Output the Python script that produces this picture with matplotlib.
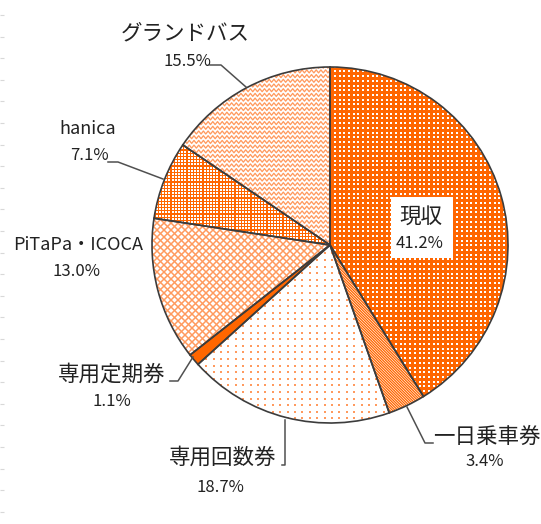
import numpy as np
import matplotlib
matplotlib.use("Agg")
import matplotlib.pyplot as plt
from matplotlib.collections import LineCollection

plt.rcParams['font.family'] = ['Noto Sans CJK JP', 'DejaVu Sans']

# data (clockwise from 12 o'clock)
labels = ['現収', '一日乗車券', '専用回数券', '専用定期券', 'PiTaPa・ICOCA', 'hanica', 'グランドバス']
shares = [41.2, 3.4, 18.7, 1.1, 13.0, 7.1, 15.5]

ORANGE = '#FF6600'
LIGHT = '#FF9A5E'
EDGE = '#3c3c3c'
W, H = 541, 524
CX, CY, R = 330, 245, 178
PX = 0.72  # points per pixel at dpi 100

fig = plt.figure(figsize=(W / 100, H / 100), dpi=100)
ax = fig.add_axes([0, 0, 1, 1])

# y axis is flipped below, so counterclock=True runs clockwise on screen
wedges, _ = ax.pie(shares, startangle=-90, counterclock=True, center=(CX, CY),
                   radius=R, wedgeprops=dict(linewidth=0))

x0, x1, y0, y1 = CX - R - 5, CX + R + 5, CY - R - 5, CY + R + 5


def dots(w, step_x, step_y, size, color, stagger=False):
    pts = []
    for j, y in enumerate(np.arange(y0, y1, step_y)):
        off = step_x / 2 if (stagger and j % 2) else 0
        for x in np.arange(x0 + off, x1, step_x):
            pts.append((x, y))
    pts = np.array(pts)
    sc = ax.scatter(pts[:, 0], pts[:, 1], s=(size * PX) ** 2, marker='s',
                    color=color, linewidths=0, zorder=3)
    sc.set_clip_path(w)


def diag(w, spacing, lw, color, slopes):
    segs = []
    span = x1 - x0 + y1 - y0
    for k in slopes:
        for c in np.arange(-span, span, spacing):
            if k > 0:
                segs.append([(x0 + c, y0), (x0 + c + span, y0 + span)])
            else:
                segs.append([(x0 + c, y0), (x0 + c - span, y0 + span)])
    lc = LineCollection(segs, colors=color, linewidths=lw * PX, zorder=3)
    ax.add_collection(lc)
    lc.set_clip_path(w)


def zigzag(w, row, period, amp, lw, color):
    xs = np.arange(x0, x1 + period, period / 2)
    segs = []
    for y in np.arange(y0, y1, row):
        ys = y + np.where(np.arange(len(xs)) % 2 == 0, -amp, amp)
        segs.append(np.column_stack([xs, ys]))
    lc = LineCollection(segs, colors=color, linewidths=lw * PX, zorder=3)
    ax.add_collection(lc)
    lc.set_clip_path(w)


# fills and patterns
wedges[0].set_facecolor(ORANGE)
dots(wedges[0], 4.7, 4.7, 1.6, 'white')

wedges[1].set_facecolor('white')
diag(wedges[1], 2.7, 1.3, ORANGE, [1])

wedges[2].set_facecolor('white')
dots(wedges[2], 7.4, 6.6, 2.0, LIGHT)

wedges[3].set_facecolor(ORANGE)

wedges[4].set_facecolor('white')
diag(wedges[4], 7.0, 1.5, LIGHT, [1, -1])

wedges[5].set_facecolor(ORANGE)
dots(wedges[5], 3.2, 3.2, 1.4, 'white')

wedges[6].set_facecolor('white')
zigzag(wedges[6], 4.7, 4.7, 1.5, 1.3, LIGHT)

# outlines on top
ax.pie(shares, startangle=-90, counterclock=True, center=(CX, CY), radius=R,
       wedgeprops=dict(fill=False, edgecolor=EDGE, linewidth=1.2, zorder=5))

ax.set_xlim(0, W)
ax.set_ylim(H, 0)

# labels
jp = 15.5
num = 12
lab_pos = {
    'グランドバス': ((185, 33), (187, 61)),
    'hanica': ((88, 129), (89, 155)),
    'PiTaPa・ICOCA': ((78, 245), (77, 272)),
    '専用定期券': ((112, 375), (112, 402)),
    '専用回数券': ((223, 458), (220, 487)),
    '一日乗車券': ((487, 437), (485, 462)),
    '現収': ((421, 217), (420, 243)),
}
for name, val in zip(labels, shares):
    (tx, ty), (vx, vy) = lab_pos[name]
    size = 13 if name in ('hanica', 'PiTaPa・ICOCA') else jp
    ax.text(tx, ty, name, fontsize=size, ha='center', va='center', color='#222222', zorder=7)
    ax.text(vx, vy, f'{val:.1f}%', fontsize=num, ha='center', va='center', color='#222222', zorder=7)

# white box behind 現収
ax.add_patch(plt.Rectangle((391, 197), 62, 61, facecolor='white', edgecolor='none', zorder=6))

# leader lines
leaders = [
    [(210, 65), (221, 65), (246, 87)],
    [(108, 162), (118, 162), (163, 179)],
    [(170, 381), (178, 381), (193, 357)],
    [(282, 465), (285, 465), (285, 420)],
    [(433, 443), (425, 443), (407, 407)],
]
for pts in leaders:
    xs, ys = zip(*pts)
    ax.plot(xs, ys, color='#505050', lw=1.1, zorder=6)

# faint ticks along the left edge
ax.set_yticks(np.arange(15, 512, 21.6))
ax.tick_params(axis='y', direction='in', length=3, color='#d8d8d8', labelleft=False)
ax.set_xticks([])

fig.savefig('out.png', dpi=100)
